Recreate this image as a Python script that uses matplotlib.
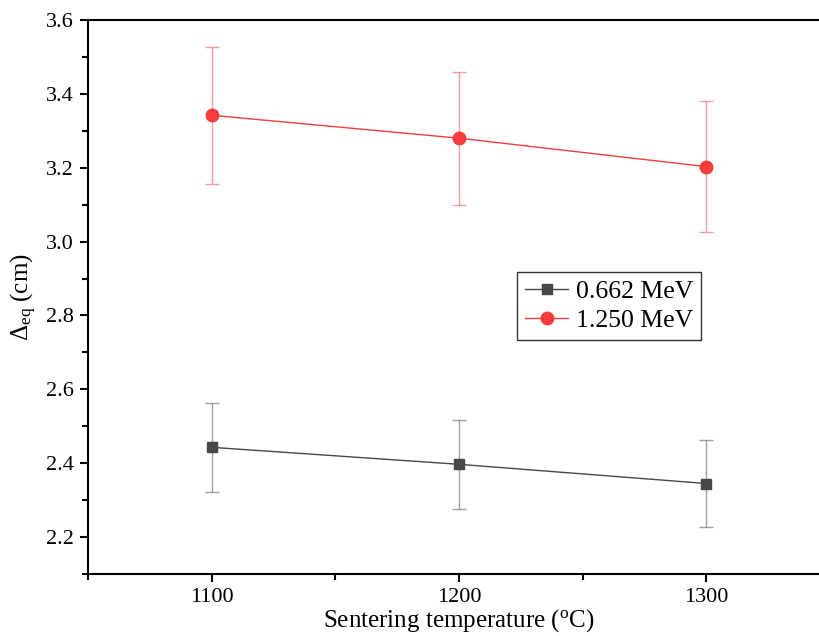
import matplotlib
matplotlib.use("Agg")
import matplotlib.pyplot as plt
from matplotlib.ticker import MultipleLocator, FormatStrFormatter
from matplotlib.lines import Line2D

# sintering temperatures (C)
temps = [1100, 1200, 1300]

# equivalent thickness, cm
low_vals = [2.443, 2.397, 2.345]
low_err = [0.121, 0.120, 0.117]
high_vals = [3.342, 3.280, 3.203]
high_err = [0.185, 0.180, 0.178]

labels = ["0.662 MeV", "1.250 MeV"]

plt.rcParams["font.family"] = ["Liberation Serif", "DejaVu Serif"]
plt.rcParams["mathtext.fontset"] = "custom"
plt.rcParams["mathtext.rm"] = "Liberation Serif"
plt.rcParams["mathtext.it"] = "Liberation Serif:italic"

fig = plt.figure(figsize=(8.19, 6.36), dpi=100)
ax = fig.add_axes([88 / 819, 62 / 636, 742 / 819, 554 / 636])

black = "#474747"
red = "#f53c3c"

handles = []
for vals, err, col, mk, ms in [
    (low_vals, low_err, black, "s", 7),
    (high_vals, high_err, red, "o", 9),
]:
    eb = ax.errorbar(temps, vals, yerr=err, color=col, marker=mk, markersize=ms,
                     linewidth=1.0, elinewidth=1.0, capsize=5, capthick=1.0)
    for c in eb[1]:
        c.set_alpha(0.5)
    for c in eb[2]:
        c.set_alpha(0.5)
    handles.append(Line2D([], [], color=col, marker=mk, markersize=ms, linewidth=1.0))

ax.set_xlim(1050, 1350)
ax.set_ylim(2.1, 3.6)
ax.xaxis.set_major_locator(MultipleLocator(100))
ax.xaxis.set_minor_locator(MultipleLocator(50))
ax.yaxis.set_major_locator(MultipleLocator(0.2))
ax.yaxis.set_minor_locator(MultipleLocator(0.1))
ax.yaxis.set_major_formatter(FormatStrFormatter("%.1f"))

ax.tick_params(which="major", direction="out", length=6, width=1.5, labelsize=16, pad=4)
ax.tick_params(which="minor", direction="out", length=4, width=1.5)
for s in ax.spines.values():
    s.set_linewidth(1.5)
ax.spines["right"].set_visible(False)

ax.set_xlabel("Sentering temperature ($^{\\rm o}$C)", fontsize=18, labelpad=0)
ax.set_ylabel("Δ$_{\\rm eq}$ (cm)", fontsize=18, labelpad=5)

leg = ax.legend(handles, labels, loc="upper left",
                bbox_to_anchor=((517 - 88) / 742, (636 - 62 - 272) / 554),
                fontsize=18.5, frameon=True, fancybox=False, edgecolor="black",
                handlelength=1.7, borderpad=0.3, borderaxespad=0,
                labelspacing=0.25, handletextpad=0.3)
leg.get_frame().set_linewidth(1.0)

fig.savefig("out.png", dpi=100)
